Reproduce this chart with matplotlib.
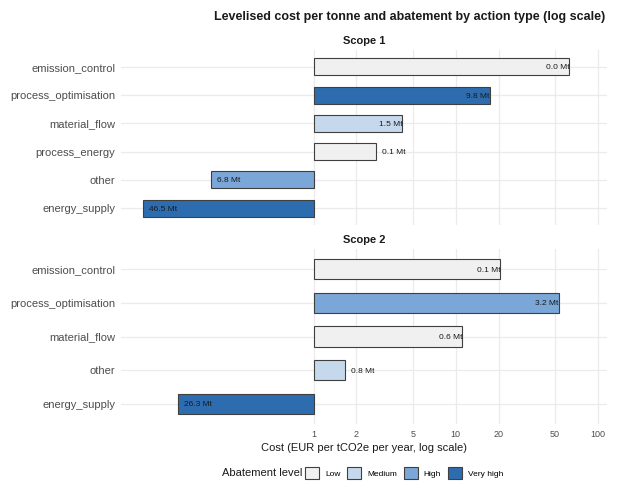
import numpy as np
import matplotlib.pyplot as plt
from matplotlib.patches import Patch

plt.rcParams['font.family'] = ['Liberation Sans', 'DejaVu Sans']

# scope 1 actions (top to bottom)
actions_s1 = ['emission_control', 'process_optimisation', 'material_flow',
              'process_energy', 'other', 'energy_supply']
cost_s1 = [63.0, 17.3, 4.2, 2.73, 0.188, 0.0625]
abate_s1 = [0.0, 9.8, 1.5, 0.1, 6.8, 46.5]
level_s1 = ['Low', 'Very high', 'Medium', 'Low', 'High', 'Very high']

# scope 2 actions
actions_s2 = ['emission_control', 'process_optimisation', 'material_flow',
              'other', 'energy_supply']
cost_s2 = [20.6, 53.0, 11.1, 1.65, 0.11]
abate_s2 = [0.1, 3.2, 0.6, 0.8, 26.3]
level_s2 = ['Low', 'High', 'Low', 'Medium', 'Very high']

levels = ['Low', 'Medium', 'High', 'Very high']
level_colors = {'Low': '#f0f0f0', 'Medium': '#c6d9ec',
                'High': '#7ba6d8', 'Very high': '#2e6cb0'}
x_ticks = [1, 2, 5, 10, 20, 50, 100]

W, H = 619, 487
fig = plt.figure(figsize=(W / 100, H / 100), dpi=100)


def px_axes(left, top, right, bottom):
    return fig.add_axes([left / W, 1 - bottom / H, (right - left) / W, (bottom - top) / H])


def draw_panel(ax, actions, cost, abate, level, title, show_x):
    cost = np.array(cost)
    y = np.arange(len(actions))
    ax.set_xscale('log')
    ax.set_xlim(0.044, 116)
    ax.set_ylim(len(actions) - 0.4, -0.6)
    # horizontal grid across the whole panel, vertical only at the breaks
    for yy in y:
        ax.axhline(yy, color='#ebebeb', lw=0.9, zorder=0)
    for xt in x_ticks:
        ax.axvline(xt, color='#ebebeb', lw=0.9, zorder=0)
    ax.barh(y, np.abs(cost - 1), left=np.minimum(cost, 1), height=0.6,
            color=[level_colors[l] for l in level], edgecolor='#3f3f3f',
            linewidth=0.8, zorder=2)
    for yy, c, a in zip(y, cost, abate):
        lab = f'{a:.1f} Mt'
        lc = np.log10(c)
        # long bars get the label inside at the tip, short ones just outside
        if lc > 0.5:
            dx, ha = 0, 'right'
        else:
            dx, ha = 4.5, 'left'
        ax.annotate(lab, (c, yy), xytext=(dx, 0), textcoords='offset points',
                    ha=ha, va='center_baseline', fontsize=6, color='#1a1a1a', zorder=3)
    ax.set_yticks(y)
    ax.set_yticklabels(actions, fontsize=8, color='#4d4d4d')
    ax.xaxis.set_minor_locator(plt.NullLocator())
    ax.set_xticks(x_ticks)
    if show_x:
        ax.set_xticklabels([str(t) for t in x_ticks], fontsize=6.5, color='#4d4d4d')
        ax.set_xlabel('Cost (EUR per tCO2e per year, log scale)', fontsize=8,
                      color='#1a1a1a', labelpad=3)
    else:
        ax.set_xticklabels([])
    ax.tick_params(length=0, pad=4)
    for s in ax.spines.values():
        s.set_visible(False)
    ax.set_title(title, fontsize=8, fontweight='bold', color='#1a1a1a', pad=4)


ax1 = px_axes(121, 50, 607, 225)
ax2 = px_axes(121, 249, 607, 424)
draw_panel(ax1, actions_s1, cost_s1, abate_s1, level_s1, 'Scope 1', False)
draw_panel(ax2, actions_s2, cost_s2, abate_s2, level_s2, 'Scope 2', True)

fig.text(605 / W, 1 - 17 / H,
         'Levelised cost per tonne and abatement by action type (log scale)',
         ha='right', va='center', fontsize=9, fontweight='bold', color='#1a1a1a')

handles = [Patch(facecolor=level_colors[l], edgecolor='#3f3f3f', linewidth=0.8)
           for l in levels]
fig.text(302 / W, 1 - 473 / H, 'Abatement level', ha='right', va='center',
         fontsize=8, color='#1a1a1a')
fig.legend(handles, levels, loc='center left', bbox_to_anchor=(305 / W, 1 - 473 / H),
           ncol=4, frameon=False, fontsize=6, handlelength=1.7, handleheight=1.7,
           handletextpad=0.7, columnspacing=0.8, borderpad=0, borderaxespad=0)

fig.savefig('out.png', dpi=100)
